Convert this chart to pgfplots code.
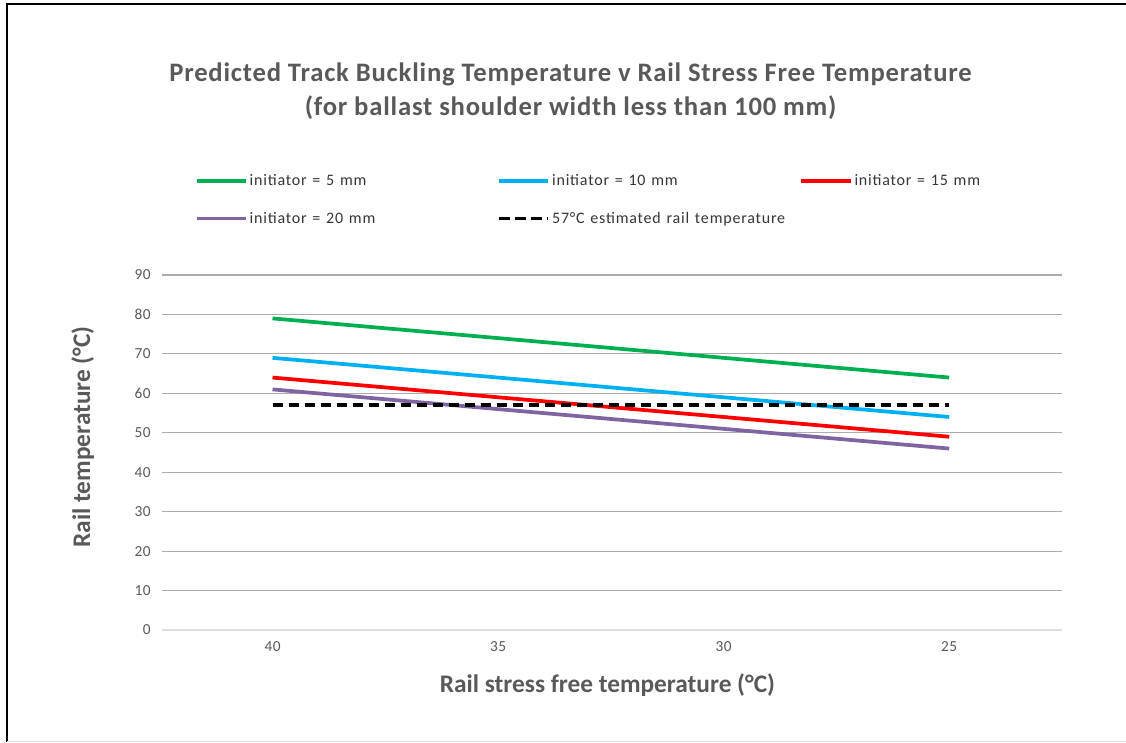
\documentclass[border=0pt]{standalone}
\usepackage{pgfplots}
\pgfplotsset{compat=1.18}
\usepackage{fontspec}
\setmainfont{Carlito}
\newfontfamily\widefont[LetterSpace=3]{Carlito}
\newfontfamily\legfont[LetterSpace=5, WordSpace=1.3]{Carlito}
\definecolor{txtgray}{HTML}{595959}
\definecolor{cgreen}{HTML}{00B050}
\definecolor{cblue}{HTML}{00B0F0}
\definecolor{cred}{HTML}{FF0000}
\definecolor{cpurple}{HTML}{8064A2}
\begin{document}
\begin{tikzpicture}
\path[use as bounding box] (0,0) rectangle (844.5pt,556.5pt);
\draw[black, line width=1.5pt] (5pt,0) -- (5pt,553.5pt) -- (844.5pt,553.5pt);
\draw[gray!25, line width=0.75pt] (5pt,0.4pt) -- (844.5pt,0.4pt);
\begin{axis}[
  at={(121.5pt,84pt)}, anchor=south west,
  scale only axis, width=675pt, height=266.25pt,
  xmin=-0.49, xmax=3.5, ymin=0, ymax=90,
  xtick={0,1,2,3}, xticklabels={40,35,30,25},
  ytick={0,10,...,90},
  axis line style={draw=none},
  major tick length=0pt,
  ymajorgrids, grid style={gray!65, line width=0.9pt},
  tick label style={font=\widefont\fontsize{11.5}{13}\selectfont, text=txtgray},
  /pgf/number format/assume math mode=true,
  yticklabel style={xshift=-5pt},
  xticklabel style={yshift=-5pt},
  xlabel={Rail stress free temperature (°C)},
  ylabel={Rail temperature (°C)},
  label style={font=\fontsize{19}{22}\selectfont\bfseries, text=txtgray},
  xlabel style={at={(rel axis cs:0.495,-0.155)}, anchor=center},
  ylabel style={at={(rel axis cs:-0.088,0.544)}, anchor=center},
  title={Predicted Track Buckling Temperature v Rail Stress Free Temperature\\(for ballast shoulder width less than 100 mm)},
  title style={font=\bfseries\widefont\fontsize{20}{25.5}\selectfont, text=txtgray, align=center, at={(rel axis cs:0.454,1.495)}, anchor=center},
  legend columns=3,
  legend cell align=left,
  legend image code/.code={\draw[#1] (0pt,0pt) -- (37pt,0pt);},
  legend style={draw=none, fill=none, at={(rel axis cs:0.036,1.29)}, anchor=north west,
    font=\legfont\fontsize{12}{14}\selectfont, text=txtgray!60!black, row sep=15.5pt, inner sep=0pt,
    nodes={inner sep=1.5pt}},
]
\addplot[cgreen, line width=2.8pt] coordinates {(0,79) (1,74) (2,69) (3,64)};
\addplot[cblue, line width=2.8pt] coordinates {(0,69) (1,64) (2,59) (3,54)};
\addplot[cred, line width=2.8pt] coordinates {(0,64) (1,59) (2,54) (3,49)};
\addplot[cpurple, line width=2.8pt] coordinates {(0,61) (1,56) (2,51) (3,46)};
\addplot[black, line width=2.8pt, dash pattern=on 8pt off 4pt] coordinates {(0,57) (1,57) (2,57) (3,57)};
\draw[gray!25, line width=1pt] (rel axis cs:0,0) -- (rel axis cs:1,0);
\legend{\makebox[184pt][l]{initiator = 5 mm},\makebox[184pt][l]{initiator = 10 mm},initiator = 15 mm,initiator = 20 mm,57°C estimated rail temperature}
\end{axis}
\end{tikzpicture}
\end{document}
